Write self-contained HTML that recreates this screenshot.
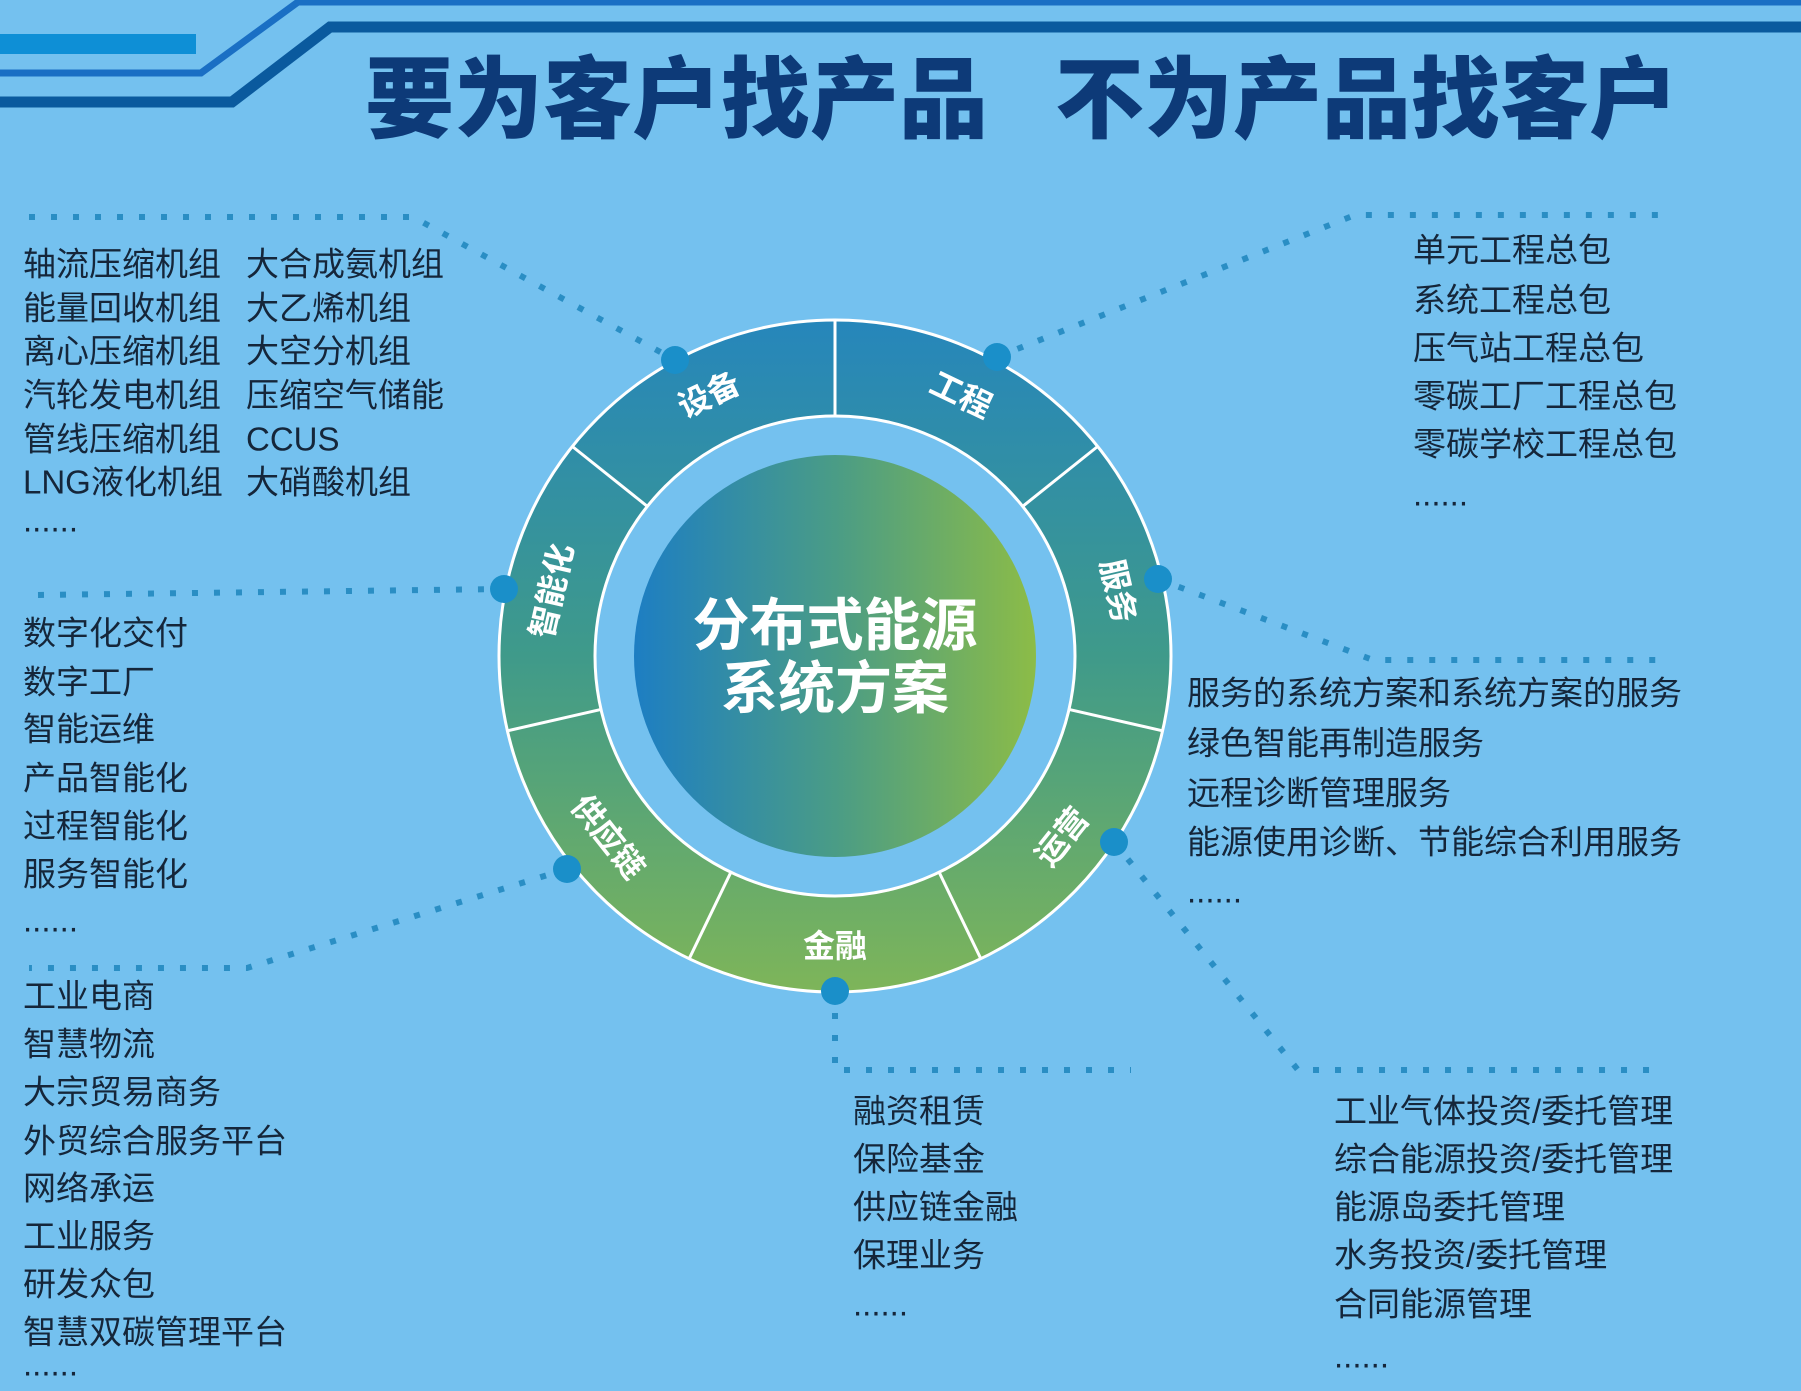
<!DOCTYPE html>
<html><head><meta charset="utf-8">
<style>
html,body{margin:0;padding:0;background:#74c1ef;}
svg{display:block}
.t{font-family:"Liberation Sans","Noto Sans CJK SC",sans-serif;font-size:33px;fill:#15263a;dominant-baseline:central}
.s{font-family:"Liberation Sans","Noto Sans CJK SC",sans-serif;font-size:32px;font-weight:bold;fill:#fff;dominant-baseline:central;text-anchor:middle}
.d{fill:none;stroke:#2a8ec4;stroke-width:6;stroke-dasharray:6 16}
</style></head>
<body>
<svg width="1801" height="1391" viewBox="0 0 1801 1391" xmlns="http://www.w3.org/2000/svg">
<defs>
<linearGradient id="rg" gradientUnits="userSpaceOnUse" x1="0" y1="320" x2="0" y2="992">
<stop offset="0" stop-color="#2686bb"/><stop offset="0.5" stop-color="#3f9a8a"/><stop offset="1" stop-color="#7eb559"/>
</linearGradient>
<linearGradient id="cg" gradientUnits="userSpaceOnUse" x1="634" y1="0" x2="1036" y2="0">
<stop offset="0" stop-color="#1d7ec3"/><stop offset="0.5" stop-color="#4a9c86"/><stop offset="1" stop-color="#8cbc47"/>
</linearGradient>
</defs>
<rect width="1801" height="1391" fill="#74c1ef"/>
<!-- header lines -->
<rect x="0" y="34" width="196" height="20" fill="#0e8fd6"/>
<polyline points="0,73 201,73 298,2 1801,2" fill="none" stroke="#1a6fc4" stroke-width="7"/>
<polyline points="0,102 232,102 330,27 1801,27" fill="none" stroke="#0a5a9e" stroke-width="11"/>
<text x="365" y="100" style="font-family:'Liberation Sans','Noto Sans CJK SC',sans-serif;font-weight:900;font-size:89px;fill:#0d3a78;dominant-baseline:central">要为客户找产品</text>
<text x="1055" y="100" style="font-family:'Liberation Sans','Noto Sans CJK SC',sans-serif;font-weight:900;font-size:89px;fill:#0d3a78;dominant-baseline:central">不为产品找客户</text>

<!-- dotted connectors -->
<polyline class="d" points="29,217 413,217 675,360"/>
<polyline class="d" points="997,357 1355,215 1666,215"/>
<polyline class="d" points="38,595 504,589"/>
<polyline class="d" points="1158,579 1373,660 1660,660"/>
<polyline class="d" points="567,869 247,968 29,968"/>
<polyline class="d" points="835,991 835,1070 1131,1070"/>
<polyline class="d" points="1114,842 1298,1070 1660,1070"/>

<!-- ring -->
<circle cx="835" cy="656" r="288" fill="none" stroke="url(#rg)" stroke-width="96"/>
<circle cx="835" cy="656" r="336" fill="none" stroke="#fff" stroke-width="3"/>
<circle cx="835" cy="656" r="240" fill="none" stroke="#fff" stroke-width="3"/>
<circle cx="835" cy="656" r="238" fill="#74c1ef"/>
<circle cx="835" cy="656" r="201" fill="url(#cg)"/>
<g stroke="#fff" stroke-width="3">
<line x1="835" y1="416" x2="835" y2="320"/>
<line x1="1022.6" y1="506.4" x2="1097.6" y2="446.5"/>
<line x1="1069" y1="709.4" x2="1162.6" y2="730.8"/>
<line x1="939.1" y1="872.2" x2="980.8" y2="958.7"/>
<line x1="730.9" y1="872.2" x2="689.2" y2="958.7"/>
<line x1="601" y1="709.4" x2="507.4" y2="730.8"/>
<line x1="647.4" y1="506.4" x2="572.4" y2="446.5"/>
</g>
<g fill="#1a8fc9">
<circle cx="675" cy="360" r="14"/><circle cx="997" cy="357" r="14"/>
<circle cx="504" cy="589" r="14"/><circle cx="1158" cy="579" r="14"/>
<circle cx="567" cy="869" r="14"/><circle cx="835" cy="991" r="14"/>
<circle cx="1114" cy="842" r="14"/>
</g>
<text class="s" transform="translate(709,395) rotate(-25.7)">设备</text>
<text class="s" transform="translate(961,395) rotate(25.7)">工程</text>
<text class="s" transform="translate(1118,591) rotate(77.1)">服务</text>
<text class="s" transform="translate(1062,837) rotate(-51.4)">运营</text>
<text class="s" transform="translate(835,946)">金融</text>
<text class="s" transform="translate(608,837) rotate(51.4)">供应链</text>
<text class="s" transform="translate(552,591) rotate(-77.1)">智能化</text>
<text x="835" y="626" style="font-family:'Liberation Sans','Noto Sans CJK SC',sans-serif;font-weight:bold;font-size:57px;fill:#fff;text-anchor:middle;dominant-baseline:central">分布式能源</text>
<text x="835" y="689" style="font-family:'Liberation Sans','Noto Sans CJK SC',sans-serif;font-weight:bold;font-size:57px;fill:#fff;text-anchor:middle;dominant-baseline:central">系统方案</text>

<!-- top-left -->
<g class="t">
<text x="23" y="264">轴流压缩机组</text><text x="246" y="264">大合成氨机组</text>
<text x="23" y="308">能量回收机组</text><text x="246" y="308">大乙烯机组</text>
<text x="23" y="351">离心压缩机组</text><text x="246" y="351">大空分机组</text>
<text x="23" y="395">汽轮发电机组</text><text x="246" y="395">压缩空气储能</text>
<text x="23" y="439">管线压缩机组</text><text x="246" y="439">CCUS</text>
<text x="23" y="482">LNG液化机组</text><text x="246" y="482">大硝酸机组</text>
<text x="23" y="520">......</text>
</g>
<!-- top-right -->
<g class="t">
<text x="1413" y="250">单元工程总包</text>
<text x="1413" y="300">系统工程总包</text>
<text x="1413" y="348">压气站工程总包</text>
<text x="1413" y="396">零碳工厂工程总包</text>
<text x="1413" y="444">零碳学校工程总包</text>
<text x="1413" y="494">......</text>
</g>
<!-- mid-left -->
<g class="t">
<text x="23" y="633">数字化交付</text>
<text x="23" y="682">数字工厂</text>
<text x="23" y="729">智能运维</text>
<text x="23" y="778">产品智能化</text>
<text x="23" y="826">过程智能化</text>
<text x="23" y="874">服务智能化</text>
<text x="23" y="920">......</text>
</g>
<!-- right service -->
<g class="t">
<text x="1187" y="693">服务的系统方案和系统方案的服务</text>
<text x="1187" y="743">绿色智能再制造服务</text>
<text x="1187" y="793">远程诊断管理服务</text>
<text x="1187" y="842">能源使用诊断、节能综合利用服务</text>
<text x="1187" y="891">......</text>
</g>
<!-- bottom-left -->
<g class="t">
<text x="23" y="996">工业电商</text>
<text x="23" y="1044">智慧物流</text>
<text x="23" y="1092">大宗贸易商务</text>
<text x="23" y="1141">外贸综合服务平台</text>
<text x="23" y="1188">网络承运</text>
<text x="23" y="1236">工业服务</text>
<text x="23" y="1284">研发众包</text>
<text x="23" y="1332">智慧双碳管理平台</text>
<text x="23" y="1364">......</text>
</g>
<!-- bottom-center -->
<g class="t">
<text x="853" y="1111">融资租赁</text>
<text x="853" y="1159">保险基金</text>
<text x="853" y="1207">供应链金融</text>
<text x="853" y="1255">保理业务</text>
<text x="853" y="1304">......</text>
</g>
<!-- bottom-right -->
<g class="t">
<text x="1334" y="1111">工业气体投资/委托管理</text>
<text x="1334" y="1159">综合能源投资/委托管理</text>
<text x="1334" y="1207">能源岛委托管理</text>
<text x="1334" y="1255">水务投资/委托管理</text>
<text x="1334" y="1304">合同能源管理</text>
<text x="1334" y="1356">......</text>
</g>
</svg>
</body></html>
